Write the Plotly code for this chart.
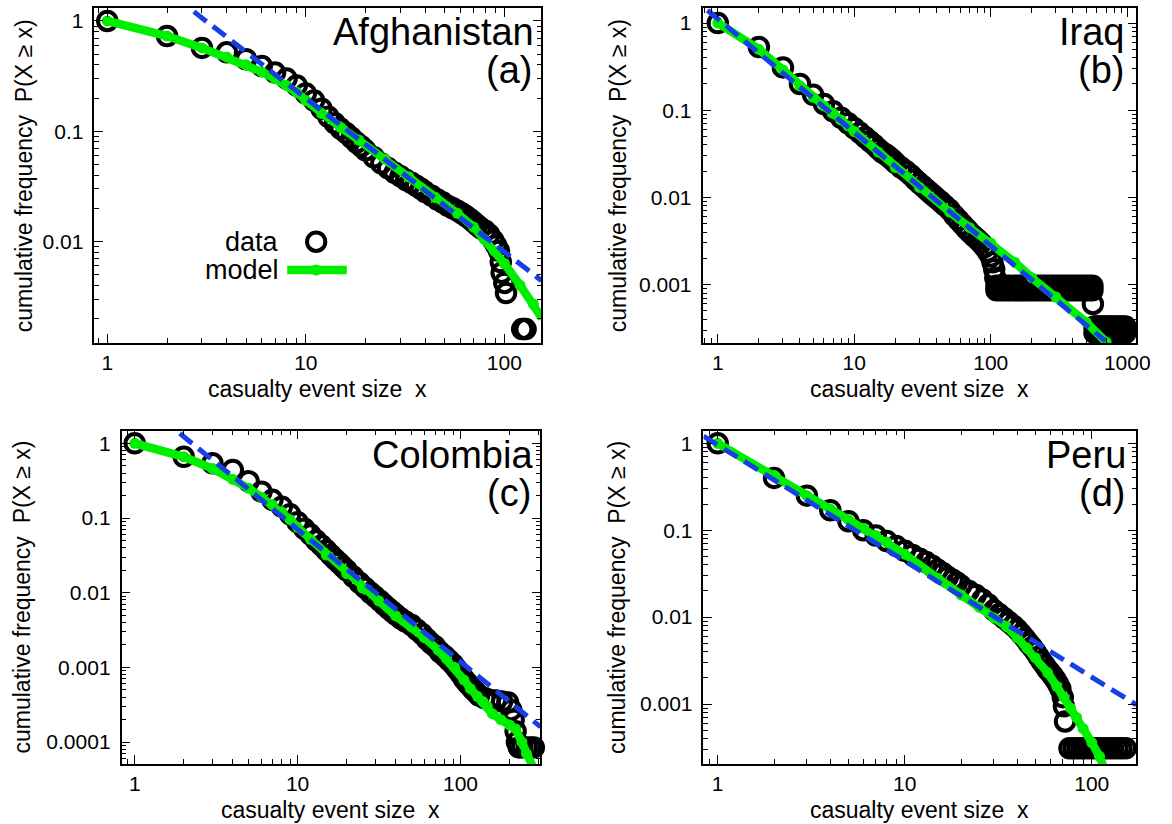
import plotly.graph_objects as go

W, H = 1172, 824
FONT = "Liberation Sans, Arial, Helvetica, sans-serif"
GREEN = "#00ee00"
BLUE = "#1640e6"

# ---------------- Afghanistan (a) ----------------
afg_data_x = [1,2,3,4,5,6,7,8,9,10,11,12,13,14,15,16,17,18,19,20,22,24,26,28,30,32,34,36,38,40,
              43,46,49,52,55,58,61,64,67,70,73,76,80,84,88,91,94,96,97,100,102,123,125,128]
afg_data_p = [1,0.73,0.57,0.52,0.45,0.39,0.34,0.30,0.26,0.22,0.19,0.16,0.135,0.118,0.105,0.096,0.087,0.079,0.073,0.067,
              0.058,0.051,0.046,0.042,0.039,0.036,0.034,0.032,0.030,0.028,
              0.026,0.024,0.0225,0.021,0.02,0.019,0.018,0.017,0.016,0.015,0.014,0.0132,0.0125,0.0115,0.0102,0.0092,0.0082,
              0.0065,0.0052,0.0042,0.0034,0.0016,0.0016,0.0016]
afg_model_x = [1,2,3,4,5,6,7,8,9,10,12,15,18.5,25,33,45,58,70,79,89,100,120,140,155]
afg_model_p = [1,0.73,0.57,0.47,0.40,0.345,0.30,0.26,0.225,0.19,0.145,0.108,0.083,0.056,0.0386,0.025,0.018,0.0135,
               0.0105,0.0082,0.0063,0.004,0.0027,0.002]
afg_fit_x = [2.73, 154]
afg_fit_p = [1.216, 0.0044]

# ---------------- Iraq (b) ----------------
iraq_data_x = [1,2,3,4,5,6,7,8,9,10,11,12,13,14,15,16,17,18,19,20,22,24,26,28,30,32,34,36,38,40,
               43,46,50,54,58,62,66,70,75,80,85,90,95,100,103,106,108,560]
iraq_data_p = [1,0.53,0.31,0.2,0.15,0.118,0.097,0.082,0.071,0.062,0.055,0.049,0.044,0.04,0.036,0.033,0.031,0.029,0.027,0.025,
               0.022,0.02,0.018,0.016,0.0145,0.0133,0.0122,0.0113,0.0105,0.0098,
               0.0089,0.0081,0.0072,0.0062,0.0055,0.0049,0.0044,0.004,0.0036,0.0033,0.003,0.0027,0.0024,0.0021,0.0018,0.0015,0.0012,
               0.0006]
iraq_band1_x = [110,117,124,132,140,149,158,168,178,189,200,212,225,239,254,270,287,305,324,344,365,388,412,438,465,494,525,556]
iraq_band1_upper_p = 0.00097
iraq_band1_lower_p = 0.00086
iraq_band2_x = [575,600,625,650,680,710,740,775,810,850,890,930,970]
iraq_band2_upper_p = 0.00033
iraq_band2_lower_p = 0.00028
iraq_model_x = [1,2,3,4,5,6,7,8,9,10,15,20,30,50,70,100,150,200,300,500,700]
iraq_model_p = [1,0.5,0.29,0.19,0.14,0.112,0.092,0.077,0.066,0.057,0.033,0.022,0.013,0.0068,0.0045,0.003,0.0018,0.0012,
                0.00072,0.00037,0.00022]
iraq_fit_x = [0.84, 693]
iraq_fit_p = [1.4, 0.000225]

# ---------------- Colombia (c) ----------------
colo_data_x = [1,2,3,4,5,6,7,8,9,10,11,12,13,14,15,16,17,18,19,20,22,24,26,28,30,32,34,36,38,40,
               43,46,50,54,58,62,66,70,75,80,85,90,95,100,105,110,115,120,125,130,140,150,165,180,196,
               205,212,218,222,228,240,255,270,282]
colo_data_p = [1,0.66,0.54,0.44,0.31,0.225,0.175,0.142,0.112,0.088,0.072,0.06,0.05,0.043,0.037,0.032,0.028,0.025,0.0222,0.02,
               0.0163,0.0136,0.0116,0.01,0.0088,0.0078,0.0069,0.0062,0.0056,0.0051,
               0.0045,0.0041,0.0037,0.0032,0.0028,0.0024,0.0021,0.0019,0.0016,0.00142,0.00125,0.0011,0.00095,0.00082,
               0.0007,0.00062,0.00056,0.0005,0.00046,0.00042,0.00039,0.00037,0.00036,0.00035,0.00034,
               0.00027,0.0002,0.00014,0.0001,0.000085,0.000085,0.000085,0.000085,0.000085]
colo_model_x = [1,2,3,4,5,6,7,8,9,10,12,15,20,25,31.5,40,50,60,73,82,92,105,115,127,137,146,157,177,200,218,238,254,282,300]
colo_model_p = [1,0.66,0.46,0.33,0.25,0.19,0.15,0.12,0.095,0.075,0.052,0.032,0.018,0.0115,0.0078,0.0049,0.0035,0.0025,
                0.0017,0.0013,0.001,0.00068,0.00052,0.00041,0.00035,0.0003,0.00024,0.0002,0.00017,0.00015,0.0001,
                0.00007,0.000044,0.000032]
colo_fit_x = [1.89, 310]
colo_fit_p = [1.36, 0.00016]

# ---------------- Peru (d) ----------------
peru_data_x = [1,2,3,4,5,6,7,8,9,10,11,12,13,14,15,16,17,18,19,20,22,24,26,28,30,32,34,36,38,40,
               42,44,46,48,50,52,54,56,58,60,62,64,66,68,70,71,72]
peru_data_p = [1,0.40,0.25,0.17,0.127,0.1,0.087,0.075,0.066,0.058,0.052,0.047,0.043,0.039,0.035,0.032,0.029,0.027,0.025,0.023,
               0.02,0.018,0.016,0.014,0.012,0.0108,0.0097,0.0088,0.008,0.0072,0.0064,0.0057,0.005,0.0045,0.004,
               0.0035,0.0031,0.0028,0.0025,0.0023,0.0021,0.0019,0.0017,0.0015,0.0012,0.00094,0.00063]
peru_band_x = [76,80,84,88,92,97,102,107,112,118,124,130,137,144,152]
peru_band_p = 0.00031
peru_model_x = [1,2,3,4,5,6,7,8,10,15,20,25,30,35,40,45,50,58,65,71,77,83,90,100,110,118]
peru_model_p = [1,0.43,0.25,0.175,0.132,0.105,0.087,0.073,0.053,0.028,0.018,0.013,0.0098,0.0078,0.0058,0.0044,
                0.0034,0.0023,0.0016,0.0012,0.0009,0.0007,0.00052,0.00036,0.00025,0.00017]
peru_fit_x = [0.84, 173]
peru_fit_p = [1.21, 0.00098]

names = ["Afghanistan", "Iraq", "Colombia", "Peru"]
letters = ["(a)", "(b)", "(c)", "(d)"]
# left edges (px) of the panel texts, so that they end about 10 px inside the frame
name_left_px = [335, 1070, 374, 1057]
letter_left_px = [490, 1089, 491, 1090]
xtick_sets = [[1, 10, 100], [1, 10, 100, 1000], [1, 10, 100], [1, 10, 100]]
ytick_sets = [[1, 0.1, 0.01], [1, 0.1, 0.01, 0.001], [1, 0.1, 0.01, 0.001, 0.0001], [1, 0.1, 0.01, 0.001]]

# layout: panel boxes in pixels (left, top, right, bottom) and log ranges
boxes = [(95.5, 8.3, 548, 343), (711, 8.3, 1150, 343), (123, 430.7, 547, 764), (712, 430.7, 1150, 764)]
xranges = [[-0.065, 2.187], [-0.112, 3.066], [-0.081, 2.491], [-0.076, 2.238]]
yranges = [[-2.922, 0.115], [-3.67, 0.169], [-4.293, 0.169], [-3.69, 0.145]]
ytitle_px = [24, 625, 22.4, 625]

series = [
    dict(data=[(afg_data_x, afg_data_p)], model=(afg_model_x, afg_model_p), fit=(afg_fit_x, afg_fit_p)),
    dict(data=[(iraq_data_x, iraq_data_p),
               (iraq_band1_x, [iraq_band1_upper_p] * len(iraq_band1_x)),
               (iraq_band1_x, [iraq_band1_lower_p] * len(iraq_band1_x)),
               (iraq_band2_x, [iraq_band2_upper_p] * len(iraq_band2_x)),
               (iraq_band2_x, [iraq_band2_lower_p] * len(iraq_band2_x))],
         model=(iraq_model_x, iraq_model_p), fit=(iraq_fit_x, iraq_fit_p)),
    dict(data=[(colo_data_x, colo_data_p)], model=(colo_model_x, colo_model_p), fit=(colo_fit_x, colo_fit_p)),
    dict(data=[(peru_data_x, peru_data_p), (peru_band_x, [peru_band_p] * len(peru_band_x))],
         model=(peru_model_x, peru_model_p), fit=(peru_fit_x, peru_fit_p)),
]


def fmt(v):
    return ("%g" % v) if v >= 1 else ("%.10f" % v).rstrip("0")


minor_vals = [k * 10.0 ** e for e in range(-5, 4) for k in range(2, 10)]

fig = go.Figure()
layout = dict(width=W, height=H, margin=dict(l=0, r=0, t=0, b=0), paper_bgcolor="white", plot_bgcolor="white",
              showlegend=False, font=dict(family=FONT, color="black"))
annotations = []
shapes = []


def px(x):
    return x / W


def py(y):
    return 1 - y / H


for i in range(4):
    sfx = "" if i == 0 else str(i + 1)
    xa, ya = "x" + sfx, "y" + sfx
    s = series[i]
    for dx, dp in s["data"]:
        fig.add_trace(go.Scatter(x=dx, y=dp, mode="markers", xaxis=xa, yaxis=ya, cliponaxis=False,
                                 marker=dict(symbol="circle-open", size=18.5, color="black",
                                             line=dict(width=4, color="black"))))
    mx, mp = s["model"]
    fig.add_trace(go.Scatter(x=mx, y=mp, mode="lines+markers", xaxis=xa, yaxis=ya,
                             line=dict(color=GREEN, width=8.5), marker=dict(color=GREEN, size=11)))
    fx, fp = s["fit"]
    fig.add_trace(go.Scatter(x=fx, y=fp, mode="lines", xaxis=xa, yaxis=ya,
                             line=dict(color=BLUE, width=5, dash="16px,8px")))

    l, t, r, b = boxes[i]
    common = dict(type="log", ticks="inside", ticklen=9, tickwidth=1.3, tickcolor="black",
                  showline=True, linewidth=1.5, linecolor="black", mirror="allticks",
                  showgrid=False, zeroline=False,
                  tickfont=dict(size=21, color="black", family=FONT),
                  minor=dict(tickvals=minor_vals, ticks="inside", ticklen=5, tickwidth=1, tickcolor="black",
                             showgrid=False))
    layout["xaxis" + sfx] = dict(common, domain=[px(l), px(r)], range=xranges[i], anchor=ya,
                                 tickvals=xtick_sets[i], ticktext=[fmt(v) for v in xtick_sets[i]],
                                 ticklabelstandoff=0)
    layout["yaxis" + sfx] = dict(common, domain=[py(b), py(t)], range=yranges[i], anchor=xa,
                                 tickvals=ytick_sets[i], ticktext=[fmt(v) for v in ytick_sets[i]],
                                 ticklabelstandoff=5)

    # panel texts
    annotations.append(dict(text=names[i], x=px(name_left_px[i]), y=py(t + 24), xref="paper", yref="paper",
                            xanchor="left", yanchor="middle", showarrow=False,
                            font=dict(size=38, family=FONT, color="black")))
    annotations.append(dict(text=letters[i], x=px(letter_left_px[i]), y=py(t + 62), xref="paper", yref="paper",
                            xanchor="left", yanchor="middle", showarrow=False,
                            font=dict(size=38, family=FONT, color="black")))
    # axis titles
    annotations.append(dict(text="casualty event size\u00a0 x", x=px((l + r) / 2), y=py(b + 46),
                            xref="paper", yref="paper", xanchor="center", yanchor="middle", showarrow=False,
                            font=dict(size=23, family=FONT, color="black")))
    annotations.append(dict(text="cumulative frequency\u00a0 P(X \u2265 x)", x=px(ytitle_px[i]), y=py((t + b) / 2),
                            xref="paper", yref="paper", xanchor="center", yanchor="middle", showarrow=False,
                            textangle=-90, font=dict(size=23, family=FONT, color="black")))

# legend in panel (a)
annotations.append(dict(text="data", x=px(284), y=py(242), xref="paper", yref="paper", xanchor="right",
                        yanchor="middle", showarrow=False, height=25, valign="middle",
                        font=dict(size=27, family=FONT, color="black")))
annotations.append(dict(text="model", x=px(284), y=py(269), xref="paper", yref="paper", xanchor="right",
                        yanchor="middle", showarrow=False, height=25, valign="middle",
                        font=dict(size=27, family=FONT, color="black")))
cx, cy, rr = 320, 241.7, 9.25
shapes.append(dict(type="circle", xref="paper", yref="paper", x0=px(cx - rr), x1=px(cx + rr),
                   y0=py(cy + rr), y1=py(cy - rr), line=dict(color="black", width=4)))
shapes.append(dict(type="line", xref="paper", yref="paper", x0=px(290.7), x1=px(351), y0=py(270), y1=py(270),
                   line=dict(color=GREEN, width=8.5)))
shapes.append(dict(type="circle", xref="paper", yref="paper", x0=px(314.5), x1=px(325.5),
                   y0=py(275.5), y1=py(264.5), fillcolor=GREEN, line=dict(color=GREEN, width=0)))

layout["annotations"] = annotations
layout["shapes"] = shapes
fig.update_layout(**layout)
fig.write_html("out.html", config={"displayModeBar": False},
               post_script="document.body.style.margin='0px';")
